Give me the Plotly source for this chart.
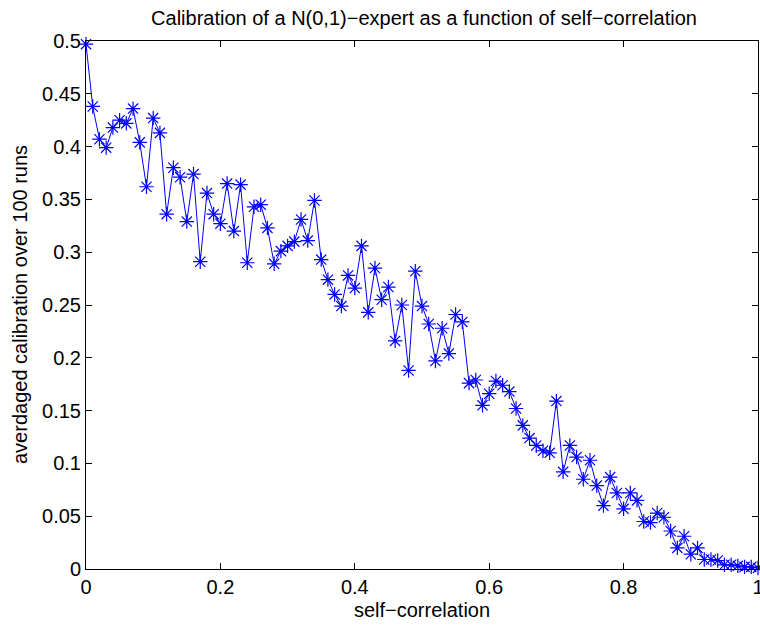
import plotly.graph_objects as go

# self-correlation grid
self_corr = [
    0.00, 0.01, 0.02, 0.03, 0.04, 0.05, 0.06, 0.07, 0.08, 0.09,
    0.10, 0.11, 0.12, 0.13, 0.14, 0.15, 0.16, 0.17, 0.18, 0.19,
    0.20, 0.21, 0.22, 0.23, 0.24, 0.25, 0.26, 0.27, 0.28, 0.29,
    0.30, 0.31, 0.32, 0.33, 0.34, 0.35, 0.36, 0.37, 0.38, 0.39,
    0.40, 0.41, 0.42, 0.43, 0.44, 0.45, 0.46, 0.47, 0.48, 0.49,
    0.50, 0.51, 0.52, 0.53, 0.54, 0.55, 0.56, 0.57, 0.58, 0.59,
    0.60, 0.61, 0.62, 0.63, 0.64, 0.65, 0.66, 0.67, 0.68, 0.69,
    0.70, 0.71, 0.72, 0.73, 0.74, 0.75, 0.76, 0.77, 0.78, 0.79,
    0.80, 0.81, 0.82, 0.83, 0.84, 0.85, 0.86, 0.87, 0.88, 0.89,
    0.90, 0.91, 0.92, 0.93, 0.94, 0.95, 0.96, 0.97, 0.98, 0.99,
    1.00,
]

# calibration averaged over 100 runs
avg_calibration = [
    0.497, 0.438, 0.407, 0.399, 0.418, 0.425, 0.422, 0.436, 0.404, 0.362,
    0.427, 0.413, 0.336, 0.380, 0.371, 0.329, 0.374, 0.291, 0.356, 0.336,
    0.327, 0.365, 0.320, 0.364, 0.290, 0.343, 0.345, 0.323, 0.289, 0.301,
    0.306, 0.310, 0.331, 0.311, 0.349, 0.293, 0.274, 0.260, 0.249, 0.278,
    0.266, 0.306, 0.243, 0.285, 0.255, 0.267, 0.216, 0.250, 0.188, 0.282,
    0.249, 0.232, 0.197, 0.228, 0.204, 0.241, 0.234, 0.176, 0.179, 0.155,
    0.166, 0.178, 0.174, 0.168, 0.152, 0.136, 0.124, 0.117, 0.112, 0.110,
    0.159, 0.092, 0.117, 0.106, 0.085, 0.103, 0.079, 0.060, 0.087, 0.072,
    0.057, 0.072, 0.065, 0.045, 0.044, 0.053, 0.049, 0.036, 0.020, 0.031,
    0.014, 0.020, 0.009, 0.009, 0.008, 0.004, 0.004, 0.003, 0.002, 0.002,
    0.001,
]

x_ticks = [0, 0.2, 0.4, 0.6, 0.8, 1]
x_tick_text = ["0", "0.2", "0.4", "0.6", "0.8", "1"]
y_ticks = [0, 0.05, 0.1, 0.15, 0.2, 0.25, 0.3, 0.35, 0.4, 0.45, 0.5]
y_tick_text = ["0", "0.05", "0.1", "0.15", "0.2", "0.25", "0.3", "0.35", "0.4", "0.45", "0.5"]

FONT = "Liberation Sans, Arial, Helvetica, sans-serif"
MARGIN_L, MARGIN_R, MARGIN_T, MARGIN_B = 86, 2, 41, 60
WIDTH, HEIGHT = 760, 629
PLOT_W = WIDTH - MARGIN_L - MARGIN_R

fig = go.Figure()
fig.add_trace(go.Scatter(
    x=self_corr,
    y=avg_calibration,
    mode="lines+markers",
    line=dict(color="#0000ff", width=1),
    marker=dict(symbol="asterisk-open", size=12, color="#0000ff",
                line=dict(color="#0000ff", width=1.2)),
    cliponaxis=False,
    showlegend=False,
))

axis_common = dict(
    showline=True, linecolor="black", linewidth=1, mirror="ticks",
    ticks="inside", ticklen=6, tickcolor="black", tickwidth=1,
    showgrid=False, zeroline=False, automargin=False,
    tickfont=dict(family=FONT, size=20, color="black"),
)

fig.update_xaxes(
    range=[0, 1], tickvals=x_ticks, ticktext=x_tick_text,
    ticklabeloverflow="allow",
    title=dict(text="self\u2212correlation", font=dict(family=FONT, size=20, color="black"), standoff=5),
    **axis_common,
)
fig.update_yaxes(
    range=[0, 0.5], tickvals=y_ticks, ticktext=y_tick_text,
    ticklabeloverflow="allow",
    **axis_common,
)

# vertical axis label placed as a rotated annotation
fig.add_annotation(
    text="averdaged calibration over 100 runs",
    xref="paper", yref="paper",
    x=(20 - MARGIN_L) / PLOT_W, y=0.5,
    xanchor="center", yanchor="middle",
    textangle=-90, showarrow=False,
    font=dict(family=FONT, size=20, color="black"),
)

fig.update_layout(
    width=WIDTH, height=HEIGHT,
    margin=dict(l=MARGIN_L, r=MARGIN_R, t=MARGIN_T, b=MARGIN_B),
    paper_bgcolor="white", plot_bgcolor="white",
    title=dict(
        text="Calibration of a N(0,1)\u2212expert as a function of self\u2212correlation",
        font=dict(family=FONT, size=20, color="black"),
        x=424 / WIDTH, xanchor="center", y=1 - 18 / HEIGHT, yanchor="middle",
    ),
)

fig.write_html("out.html")
